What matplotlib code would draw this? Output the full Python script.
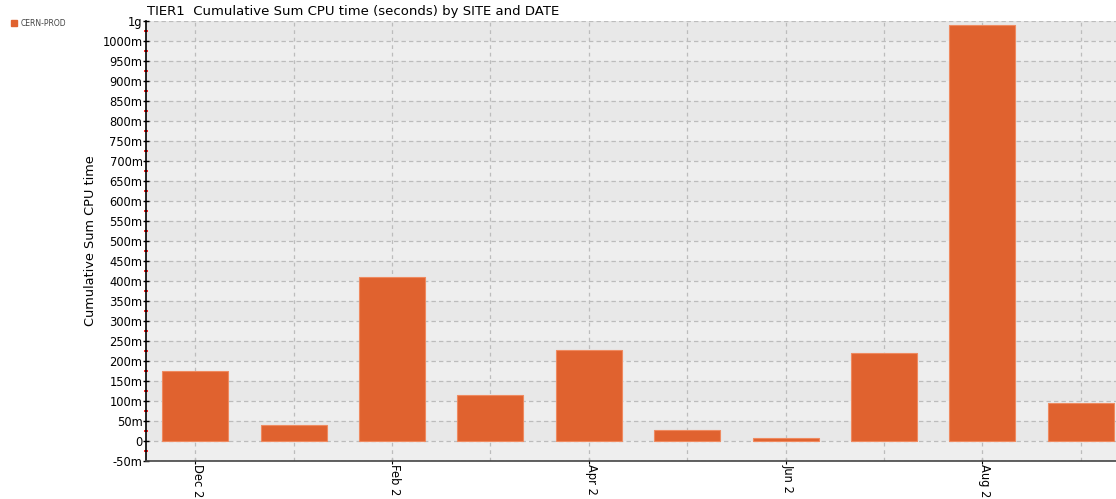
import matplotlib
matplotlib.use("Agg")
import matplotlib.pyplot as plt
from matplotlib.ticker import FixedLocator
from matplotlib.transforms import ScaledTranslation
import numpy as np

# monthly cumulative CPU time (in units of 1g = 1000m)
dates = ["Dec 2", "Jan 2", "Feb 2", "Mar 2", "Apr 2", "May 2",
         "Jun 2", "Jul 2", "Aug 2", "Sep 2"]
cpu = [0.175, 0.040, 0.410, 0.115, 0.2275, 0.0275, 0.0075, 0.220, 1.040, 0.095]
site = "CERN-PROD"

ytick_vals = np.arange(-0.05, 1.051, 0.05)
ytick_labels = ["-50m", "0"] + ["%dm" % v for v in range(50, 1001, 50)] + ["1g"]

bar_color = "#e0622f"
grid_color = "#bcbcbc"

fig = plt.figure(figsize=(11.16, 4.99), dpi=100)
# axes runs past the right edge of the figure, like the reference
ax = fig.add_axes([146/1116, 1 - 461/499, (1130-146)/1116, 440/499])

x = np.arange(len(cpu))
ax.set_xlim(-0.5, len(cpu) - 0.5)
ax.set_ylim(-0.05, 1.05)

# alternating background bands
for i in range(len(ytick_vals) - 1):
    c = "#e8e8e8" if i % 2 == 1 else "#eeeeee"
    ax.axhspan(ytick_vals[i], ytick_vals[i+1], color=c, zorder=0, lw=0)

ax.bar(x, cpu, width=0.67, color=bar_color, edgecolor="#ef8a60", linewidth=0.8, zorder=2)

ax.yaxis.set_major_locator(FixedLocator(ytick_vals))
ax.set_yticklabels(ytick_labels, fontsize=8.3)
ax.yaxis.set_minor_locator(FixedLocator(ytick_vals[:-1] + 0.025))
ax.tick_params(axis="y", which="minor", length=2.5, color="red", width=1.2, direction="inout")
ax.tick_params(axis="y", which="major", length=5, width=1, pad=0, direction="inout")

# vertical grid at every bar, tick marks and labels only every other month
for xi in x:
    ax.axvline(xi, color=grid_color, linestyle=(0, (3, 3)), linewidth=0.9, zorder=1)
ax.set_xticks(x[::2])
ax.set_xticklabels(dates[::2], rotation=270, fontsize=8.3, va="top", ha="center")
ax.tick_params(axis="x", length=4, pad=0, direction="inout")
shift = ScaledTranslation(2.5/100, 0, fig.dpi_scale_trans)
for lab in ax.get_xticklabels():
    lab.set_transform(lab.get_transform() + shift)

ax.yaxis.grid(True, color=grid_color, linestyle=(0, (3.5, 2.5)), linewidth=0.9, zorder=1)
ax.set_axisbelow(True)

for s in ["top", "right"]:
    ax.spines[s].set_visible(False)
ax.spines["left"].set_linewidth(1.2)
ax.spines["bottom"].set_linewidth(1.2)
ax.spines["bottom"].set_color("#444444")

ax.set_ylabel("Cumulative Sum CPU time", fontsize=9.3)
ax.yaxis.set_label_coords((97-146)/984, 0.5)
fig.text(147/1116, 1 - 12/499, "TIER1  Cumulative Sum CPU time (seconds) by SITE and DATE",
         fontsize=9.5, va="center", ha="left")

# legend in the top-left corner
fig.patches.append(plt.Rectangle((11/1116, 1 - 26/499), 6/1116, 6/499,
                                 transform=fig.transFigure, color=bar_color))
fig.text(21/1116, 1 - 23/499, site, fontsize=5.5, color="#444444", va="center", ha="left")

fig.savefig("out.png", dpi=100)
